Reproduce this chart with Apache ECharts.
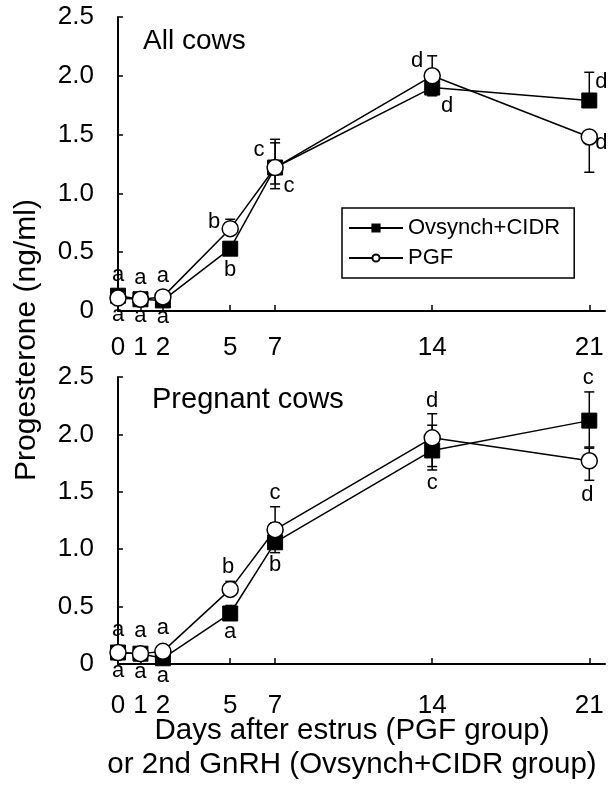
<!DOCTYPE html>
<html>
<head>
<meta charset="utf-8">
<script src="https://cdn.jsdelivr.net/npm/echarts@6/dist/echarts.min.js"></script>
<style>
html,body{margin:0;padding:0;background:#fff;}
#chart{width:608px;height:792px;}
</style>
</head>
<body>
<div id="chart"></div>
<script>
// ---- data ----
const days = [0, 1, 2, 5, 7, 14, 21];
const seriesNames = ['Ovsynch+CIDR', 'PGF'];
const panelTitles = ['All cows', 'Pregnant cows'];
const yAxisTitle = 'Progesterone (ng/ml)';
const xAxisTitle1 = 'Days after estrus (PGF group)';
const xAxisTitle2 = 'or 2nd GnRH (Ovsynch+CIDR group)';

// All cows
const allOvs     = [0.13, 0.10, 0.09, 0.53, 1.22, 1.90, 1.79];
const allOvsUp   = [0, 0, 0, 0, 0.24, 0, 0.24];
const allOvsDown = [0, 0, 0, 0, 0.14, 0.07, 0];
const allPgf     = [0.11, 0.10, 0.12, 0.70, 1.22, 2.00, 1.48];
const allPgfUp   = [0, 0, 0, 0.08, 0.21, 0.17, 0];
const allPgfDown = [0, 0, 0, 0, 0.18, 0.16, 0.30];
const allLettersUp   = ['a', 'a', 'a', 'b', 'c', 'd', 'd'];
const allLettersDown = ['a', 'a', 'a', 'b', 'c', 'd', 'd'];

// Pregnant cows
const pregOvs     = [0.10, 0.09, 0.05, 0.44, 1.06, 1.86, 2.12];
const pregOvsUp   = [0, 0, 0, 0.07, 0.17, 0.22, 0.25];
const pregOvsDown = [0, 0, 0, 0, 0.09, 0.14, 0.23];
const pregPgf     = [0.10, 0.09, 0.11, 0.65, 1.17, 1.97, 1.77];
const pregPgfUp   = [0, 0, 0, 0.07, 0.20, 0.21, 0.11];
const pregPgfDown = [0, 0, 0, 0, 0, 0.28, 0.17];
const pregLettersUp   = ['a', 'a', 'a', 'b', 'c', 'd', 'c'];
const pregLettersDown = ['a', 'a', 'a', 'a', 'b', 'c', 'd'];

// ---- layout (pixel offsets of letters from their anchors) ----
const allUpOff   = [[0,-21],[0,-21],[0,-21],[-16,3],[-16,11],[-15,5],[12,10]];
const allDownOff = [[0,17],[0,17],[0,17],[0,21],[14,-3],[15,10],[12,-29]];
const pregUpOff   = [[0,-23],[0,-23],[0,-23],[-2,-14],[0,-14],[0,-13],[-1,-14]];
const pregDownOff = [[0,18],[0,18],[0,18],[0,18],[0,12],[0,13],[-2,15]];

const FONT = '"Liberation Sans", Arial, Helvetica, sans-serif';

const chart = echarts.init(document.getElementById('chart'), null, {renderer: 'canvas'});

function errSeries(vals, up, down, gi) {
  return {
    type: 'custom', xAxisIndex: gi, yAxisIndex: gi, z: 1, silent: true,
    data: days.map((d, i) => [d, vals[i], up[i], down[i]]),
    renderItem: function (params, api) {
      const x = api.value(0), v = api.value(1), u = api.value(2), dn = api.value(3);
      const c = api.coord([x, v]);
      const children = [];
      const st = {stroke: '#000', lineWidth: 1.5};
      const cw = 5;
      if (u > 0) {
        const t = api.coord([x, v + u]);
        children.push({type: 'line', shape: {x1: c[0], y1: c[1], x2: t[0], y2: t[1]}, style: st});
        children.push({type: 'line', shape: {x1: t[0]-cw, y1: t[1], x2: t[0]+cw, y2: t[1]}, style: st});
      }
      if (dn > 0) {
        const b = api.coord([x, v - dn]);
        children.push({type: 'line', shape: {x1: c[0], y1: c[1], x2: b[0], y2: b[1]}, style: st});
        children.push({type: 'line', shape: {x1: b[0]-cw, y1: b[1], x2: b[0]+cw, y2: b[1]}, style: st});
      }
      return {type: 'group', children: children};
    }
  };
}

function letterSeries(anchors, letters, offs, gi) {
  return {
    type: 'custom', xAxisIndex: gi, yAxisIndex: gi, z: 5, silent: true,
    data: days.map((d, i) => [d, anchors[i]]),
    renderItem: function (params, api) {
      const i = params.dataIndex;
      const p = api.coord([api.value(0), api.value(1)]);
      return {
        type: 'text',
        style: {
          text: letters[i], x: p[0] + offs[i][0], y: p[1] + offs[i][1],
          fill: '#000', font: '22px ' + FONT, align: 'center', verticalAlign: 'middle'
        }
      };
    }
  };
}

function lineSeries(name, vals, gi, isSquare) {
  return {
    name: name, type: 'line', xAxisIndex: gi, yAxisIndex: gi,
    z: isSquare ? 3 : 4,
    data: days.map((d, i) => [d, vals[i]]),
    symbol: isSquare ? 'rect' : 'circle',
    symbolSize: isSquare ? 15 : 16,
    showAllSymbol: true,
    lineStyle: {color: '#000', width: 1.5},
    itemStyle: isSquare ? {color: '#000', borderColor: '#000', borderWidth: 1}
                        : {color: '#fff', borderColor: '#000', borderWidth: 1.5},
    emphasis: {disabled: true},
    animation: false
  };
}

function panel(ovs, ovsUp, ovsDown, pgf, pgfUp, pgfDown, lUp, lDown, upOff, downOff, gi) {
  const upAnchor = days.map((d, i) => Math.max(ovs[i] + ovsUp[i], pgf[i] + pgfUp[i]));
  const downAnchor = days.map((d, i) => Math.min(ovs[i] - ovsDown[i], pgf[i] - pgfDown[i]));
  return [
    errSeries(ovs, ovsUp, ovsDown, gi),
    errSeries(pgf, pgfUp, pgfDown, gi),
    lineSeries(seriesNames[0], ovs, gi, true),
    lineSeries(seriesNames[1], pgf, gi, false),
    letterSeries(upAnchor, lUp, upOff, gi),
    letterSeries(downAnchor, lDown, downOff, gi)
  ];
}

function xAxis(gi, offset) {
  return {
    type: 'value', gridIndex: gi, min: 0, max: 21.7, offset: offset,
    axisLine: {show: true, lineStyle: {color: '#000', width: 2}},
    axisTick: {show: true, inside: true, length: 6, customValues: days, lineStyle: {color: '#000', width: 1.5}},
    axisLabel: {show: true, customValues: days, color: '#000', fontSize: 26, fontFamily: FONT, margin: 6},
    splitLine: {show: false}
  };
}
function yAxis(gi) {
  return {
    type: 'value', gridIndex: gi, min: 0, max: 2.5, interval: 0.5, offset: 18,
    axisLine: {show: true, lineStyle: {color: '#000', width: 2}},
    axisTick: {show: true, inside: true, length: 5, lineStyle: {color: '#000', width: 1.5}},
    axisLabel: {color: '#000', fontSize: 26, fontFamily: FONT, margin: 6,
      formatter: v => v === 0 ? '0' : v.toFixed(1)},
    splitLine: {show: false}
  };
}

const option = {
  animation: false,
  backgroundColor: '#fff',
  grid: [
    {left: 118, top: 17, width: 487, height: 294},
    {left: 118, top: 377, width: 487, height: 287}
  ],
  xAxis: [xAxis(0, 18), xAxis(1, 23)],
  yAxis: [yAxis(0), yAxis(1)],
  legend: {
    data: seriesNames, orient: 'vertical', left: 342, top: 208,
    padding: [9, 14, 9, 6], itemGap: 8, itemWidth: 54, itemHeight: 9,
    borderColor: '#000', borderWidth: 1.5, backgroundColor: '#fff',
    textStyle: {color: '#000', fontSize: 22, fontFamily: FONT},
    selectedMode: false
  },
  graphic: [
    {type: 'text', left: 143, top: 27, style: {text: panelTitles[0], fill: '#000', font: '28px ' + FONT}},
    {type: 'text', left: 152, top: 385, style: {text: panelTitles[1], fill: '#000', font: '29px ' + FONT}},
    {type: 'text', x: 27, y: 340, rotation: Math.PI / 2,
      style: {text: yAxisTitle, fill: '#000', font: '30px ' + FONT, align: 'center', verticalAlign: 'middle'}},
    {type: 'text', x: 352, y: 731,
      style: {text: xAxisTitle1, fill: '#000', font: '29.5px ' + FONT, align: 'center', verticalAlign: 'middle'}},
    {type: 'text', x: 352, y: 765,
      style: {text: xAxisTitle2, fill: '#000', font: '29.5px ' + FONT, align: 'center', verticalAlign: 'middle'}}
  ],
  series: [].concat(
    panel(allOvs, allOvsUp, allOvsDown, allPgf, allPgfUp, allPgfDown, allLettersUp, allLettersDown, allUpOff, allDownOff, 0),
    panel(pregOvs, pregOvsUp, pregOvsDown, pregPgf, pregPgfUp, pregPgfDown, pregLettersUp, pregLettersDown, pregUpOff, pregDownOff, 1)
  )
};
chart.setOption(option);
</script>
</body>
</html>
